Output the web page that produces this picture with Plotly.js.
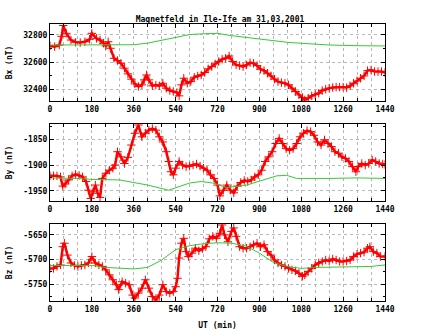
<!DOCTYPE html>
<html>
<head>
<meta charset="utf-8">
<script src="https://cdn.plot.ly/plotly-3.0.1.min.js"></script>
<style>html,body{margin:0;padding:0;background:#fff}#chart{width:440px;height:330px}</style>
</head>
<body>
<div id="chart"></div>
<script>
// Bx measured
const bxT = [0,20,40,50,57,70,90,110,130,150,170,180,200,215,230,240,250,260,275,290,305,320,335,350,365,380,395,405,415,425,440,455,470,485,500,515,530,545,555,565,575,590,605,620,635,650,665,680,695,710,725,740,755,770,785,800,815,830,845,860,875,890,905,920,935,950,965,980,995,1010,1025,1040,1055,1070,1085,1095,1110,1125,1140,1155,1170,1185,1200,1215,1230,1245,1260,1275,1290,1305,1320,1335,1350,1365,1380,1395,1410,1425,1440];
const bxV = [32719,32714,32726,32790,32870,32812,32763,32746,32744,32750,32768,32812,32775,32763,32739,32720,32750,32702,32628,32611,32591,32555,32513,32474,32439,32420,32432,32469,32505,32469,32425,32430,32425,32444,32407,32390,32383,32375,32351,32432,32481,32444,32456,32488,32498,32505,32523,32550,32567,32587,32604,32621,32628,32645,32604,32579,32574,32567,32579,32596,32591,32574,32547,32537,32518,32498,32474,32456,32449,32444,32432,32407,32383,32358,32339,32321,32334,32351,32361,32370,32390,32400,32407,32412,32415,32415,32415,32412,32425,32444,32461,32481,32498,32537,32542,32530,32530,32530,32523];
// Bx quiet curve
const bxQT = [0,180,240,360,420,480,540,600,660,720,780,900,1020,1080,1200,1320,1440];
const bxQV = [32726,32729,32727,32728,32740,32762,32786,32803,32809,32812,32795,32768,32746,32739,32726,32721,32719];

// By measured
const byT = [0,15,30,45,55,65,80,95,110,125,140,155,165,175,185,195,205,215,225,240,255,270,280,290,305,320,335,350,365,380,395,410,425,440,455,470,485,500,510,520,530,540,555,570,585,600,615,630,645,660,675,690,705,720,730,745,760,775,790,805,820,835,850,865,880,895,910,925,940,955,970,985,1000,1015,1030,1045,1060,1075,1090,1105,1120,1135,1150,1165,1180,1195,1210,1225,1240,1255,1270,1285,1300,1315,1325,1340,1355,1370,1385,1400,1415,1430,1440];
const byV = [-1921,-1921,-1921,-1923,-1941,-1937,-1929,-1921,-1918,-1920,-1923,-1932,-1949,-1965,-1952,-1939,-1955,-1963,-1926,-1916,-1910,-1906,-1900,-1874,-1884,-1897,-1885,-1861,-1838,-1822,-1845,-1838,-1832,-1829,-1832,-1845,-1855,-1874,-1893,-1913,-1919,-1906,-1893,-1900,-1903,-1902,-1900,-1898,-1902,-1906,-1910,-1919,-1926,-1939,-1960,-1949,-1939,-1949,-1954,-1941,-1934,-1930,-1932,-1929,-1923,-1919,-1910,-1893,-1884,-1874,-1858,-1848,-1858,-1868,-1871,-1868,-1858,-1845,-1838,-1833,-1835,-1842,-1855,-1861,-1851,-1858,-1864,-1874,-1877,-1884,-1887,-1893,-1903,-1913,-1903,-1897,-1900,-1897,-1890,-1893,-1897,-1898,-1899];
// By quiet curve
const byQT = [0,120,180,300,420,510,600,650,700,760,845,917,975,1017,1060,1200,1320,1440];
const byQV = [-1925,-1926,-1928,-1929,-1939,-1949,-1935,-1932,-1935,-1944,-1939,-1929,-1921,-1920,-1926,-1926,-1925,-1926];

// Bz measured
const bzT = [0,15,30,45,55,62,75,90,105,120,135,150,165,180,195,210,225,240,255,270,285,295,310,325,340,355,365,380,395,410,425,440,455,470,485,500,515,530,540,548,555,565,575,585,595,610,625,640,655,670,685,700,715,730,740,750,765,780,790,800,815,830,845,860,875,890,905,920,935,950,965,980,995,1010,1025,1040,1055,1070,1085,1095,1110,1125,1140,1155,1170,1185,1200,1215,1230,1245,1260,1275,1290,1305,1320,1335,1350,1365,1375,1390,1405,1420,1440];
const bzV = [-5718,-5718,-5714,-5711,-5674,-5667,-5691,-5707,-5712,-5714,-5712,-5711,-5707,-5694,-5707,-5711,-5714,-5721,-5731,-5741,-5751,-5761,-5745,-5748,-5751,-5772,-5778,-5768,-5758,-5741,-5758,-5775,-5782,-5772,-5751,-5765,-5768,-5765,-5755,-5738,-5697,-5667,-5657,-5684,-5694,-5687,-5677,-5682,-5678,-5674,-5658,-5653,-5657,-5647,-5630,-5650,-5664,-5643,-5636,-5653,-5674,-5677,-5677,-5674,-5670,-5667,-5674,-5670,-5684,-5691,-5701,-5707,-5711,-5714,-5718,-5721,-5723,-5728,-5734,-5731,-5724,-5718,-5711,-5707,-5704,-5701,-5703,-5699,-5701,-5704,-5704,-5703,-5701,-5694,-5689,-5687,-5685,-5677,-5674,-5684,-5687,-5694,-5694];
// Bz quiet curve
const bzQT = [0,180,240,360,420,480,540,600,660,720,780,840,900,960,1020,1080,1140,1260,1380,1440];
const bzQV = [-5712,-5712,-5716,-5719,-5716,-5701,-5680,-5672,-5668,-5666,-5667,-5672,-5687,-5706,-5714,-5718,-5716,-5715,-5714,-5711];

// tick labels
const xTicks = [0,180,360,540,720,900,1080,1260,1440];
const bxTicks = [32400,32600,32800];
const byTicks = [-1950,-1900,-1850];
const bzTicks = [-5750,-5700,-5650];

const RED = '#ff0000', GREEN = '#33cc33', GRID = '#b8b8b8';
function meas(x, y, n) {
  return {x: x, y: y, xaxis: 'x' + n, yaxis: 'y' + n, type: 'scatter', mode: 'lines+markers',
    line: {color: RED, width: 2.5},
    marker: {symbol: 'cross-thin', size: 6, color: RED, line: {color: RED, width: 1}},
    showlegend: false, hoverinfo: 'skip'};
}
function quiet(x, y, n) {
  return {x: x, y: y, xaxis: 'x' + n, yaxis: 'y' + n, type: 'scatter', mode: 'lines',
    line: {color: GREEN, width: 1}, showlegend: false, hoverinfo: 'skip'};
}
const data = [
  meas(bxT, bxV, ''), quiet(bxQT, bxQV, ''),
  meas(byT, byV, '2'), quiet(byQT, byQV, '2'),
  meas(bzT, bzV, '3'), quiet(bzQT, bzQV, '3')
];
const F = {family: 'DejaVu Sans Mono', size: 8, color: '#000', weight: 'bold'};
function xax(anchor, withTitle) {
  const a = {anchor: anchor, range: [0, 1440], tickvals: xTicks, ticktext: xTicks.map(String),
    ticks: 'inside', ticklen: 4, tickcolor: '#000', mirror: 'allticks', showline: true,
    linecolor: '#000', linewidth: 1, showgrid: true, gridcolor: GRID, griddash: 'dot',
    gridwidth: 1, zeroline: false, tickfont: F,
    minor: {dtick: 60, tick0: 0, ticks: 'inside', ticklen: 3, tickcolor: '#000', showgrid: true,
      gridcolor: GRID, griddash: 'dot', gridwidth: 1}};
  if (withTitle) a.title = {text: 'UT (min)', font: F, standoff: 9};
  return a;
}
function yax(anchor, dom, rng, ticks, mdt, title) {
  return {anchor: anchor, domain: dom, range: rng, tickvals: ticks, ticktext: ticks.map(String),
    ticks: 'inside', ticklen: 4, tickcolor: '#000', mirror: 'allticks', showline: true,
    linecolor: '#000', linewidth: 1, showgrid: true, gridcolor: GRID, griddash: 'dot',
    gridwidth: 1, zeroline: false, tickfont: F,
    title: {text: title, font: F, standoff: 9},
    minor: {dtick: mdt, tick0: 0, ticks: 'inside', ticklen: 2, tickcolor: '#000', showgrid: false}};
}
const layout = {
  width: 440, height: 330,
  margin: {l: 50, r: 55, t: 24, b: 29},
  paper_bgcolor: '#fff', plot_bgcolor: '#fff',
  font: F,
  title: {text: 'Magnetfeld in Ile-Ife am 31,03,2001', font: F, x: 0.5, xanchor: 'center',
    y: 1 - 19/330, yanchor: 'middle'},
  xaxis: xax('y', false),
  xaxis2: xax('y2', false),
  xaxis3: xax('y3', true),
  yaxis: yax('x', [0.722, 1], [32313, 32881], bxTicks, 100, 'Bx (nT)'),
  yaxis2: yax('x2', [0.361, 0.639], [-1970, -1820], byTicks, 25, 'By (nT)'),
  yaxis3: yax('x3', [0, 0.278], [-5784, -5628], bzTicks, 25, 'Bz (nT)')
};
Plotly.newPlot('chart', data, layout, {staticPlot: true, displayModeBar: false});
</script>
</body>
</html>
